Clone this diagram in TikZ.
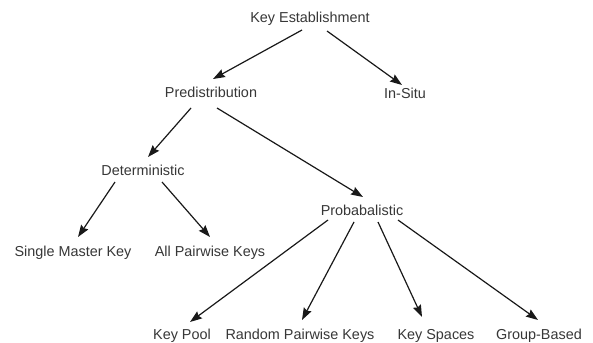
\documentclass[tikz,border=0pt]{standalone}
\usepackage{fontspec}
\setmainfont{Liberation Sans}
\usetikzlibrary{arrows.meta}
\definecolor{txt}{RGB}{55,55,55}
\definecolor{ln}{RGB}{25,25,25}
\begin{document}
\begin{tikzpicture}[x=1pt,y=-1pt,
  lbl/.style={anchor=base,inner sep=0pt,text=txt,font=\fontsize{14.4pt}{16pt}\selectfont},
  arr/.style={draw=ln,line width=1.2pt,-{Stealth[length=12pt,width=8.5pt,inset=1.5pt]}}]
\useasboundingbox[fill=white] (0,0) rectangle (593,342);
\node[lbl] (ke)   at (310,23)  {Key Establishment};
\node[lbl] (pre)  at (211,98)  {Predistribution};
\node[lbl] (ins)  at (405,99)  {In-Situ};
\node[lbl] (det)  at (143,175) {Deterministic};
\node[lbl] (smk)  at (73,256)  {Single Master Key};
\node[lbl] (apk)  at (210,256) {All Pairwise Keys};
\node[lbl] (prob) at (362,215) {Probabalistic};
\node[lbl] (kp)   at (182,339) {Key Pool};
\node[lbl] (rpk)  at (300,339) {Random Pairwise Keys};
\node[lbl] (ks)   at (436,339) {Key Spaces};
\node[lbl] (gb)   at (539,339) {Group-Based};
\draw[arr] ([shift={(-8,7)}]ke.base) -- ([shift={(2,-19)}]pre.base);
\draw[arr] ([shift={(17,8)}]ke.base) -- ([shift={(-3,-14)}]ins.base);
\draw[arr] ([shift={(-20,10)}]pre.base) -- ([shift={(5,-18)}]det.base);
\draw[arr] ([shift={(6,10)}]pre.base) -- ([shift={(1,-18)}]prob.base);
\draw[arr] ([shift={(-28,7)}]det.base) -- ([shift={(5,-19)}]smk.base);
\draw[arr] ([shift={(19,7)}]det.base) -- ([shift={(0,-19)}]apk.base);
\draw[arr] ([shift={(-34,5)}]prob.base) -- ([shift={(8,-17)}]kp.base);
\draw[arr] ([shift={(-8,7)}]prob.base) -- ([shift={(2,-19)}]rpk.base);
\draw[arr] ([shift={(16,7)}]prob.base) -- ([shift={(-14,-22)}]ks.base);
\draw[arr] ([shift={(36,5)}]prob.base) -- ([shift={(-1,-19)}]gb.base);
\end{tikzpicture}
\end{document}
